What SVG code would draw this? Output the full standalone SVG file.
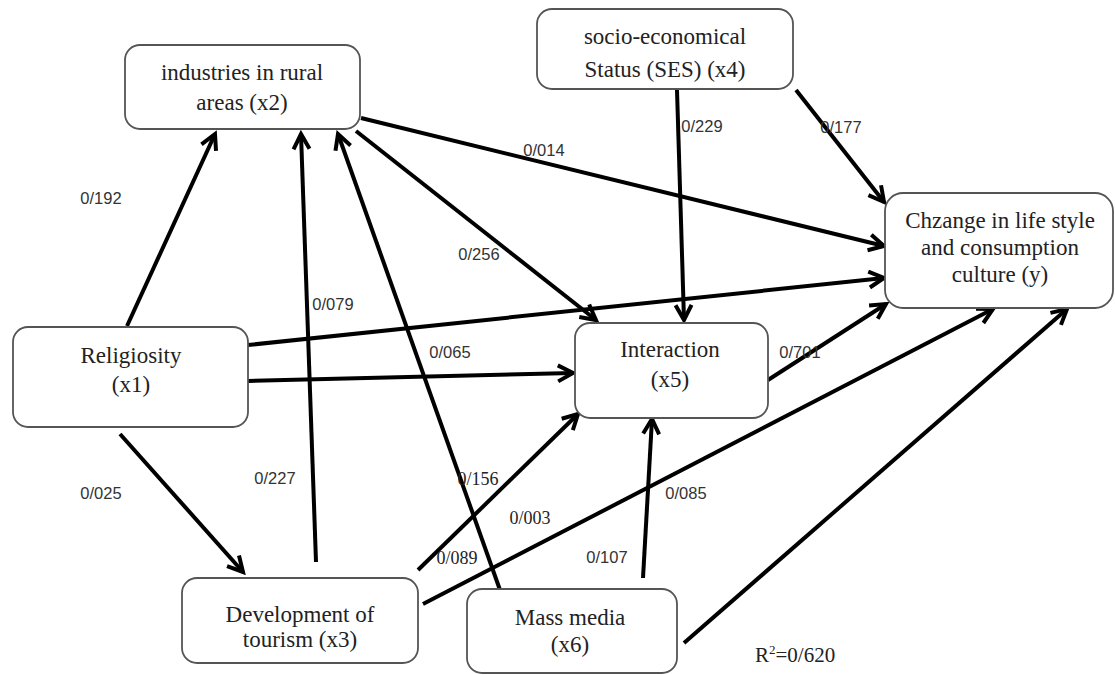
<svg xmlns="http://www.w3.org/2000/svg" width="1115" height="675" viewBox="0 0 1115 675">
<style>
.box{fill:#fff;stroke:#555;stroke-width:1.8}
.nt{font-family:"Liberation Serif","Times New Roman",serif;font-size:23px;fill:#222;text-anchor:middle}
.lb{font-family:"Liberation Sans",Arial,sans-serif;font-size:16.5px;fill:#333;text-anchor:middle}
.ls{font-family:"Liberation Serif","Times New Roman",serif;font-size:18px;fill:#222;text-anchor:middle}
.c line{stroke:#000;stroke-width:4;marker-end:url(#a)}
</style>
<defs>
<marker id="a" viewBox="0 0 24 24" refX="20" refY="12" markerWidth="24" markerHeight="24" markerUnits="userSpaceOnUse" orient="auto">
<path d="M5,4 L20,12 L5,20" fill="none" stroke="#000" stroke-width="4"/>
</marker>
</defs>
<rect width="1115" height="675" fill="#fff"/>
<g class="c" id="connectors">
<line x1="127" y1="326" x2="215" y2="134"/>
<line x1="361" y1="118" x2="884" y2="246"/>
<line x1="356" y1="131" x2="596" y2="320"/>
<line x1="677" y1="90" x2="684" y2="320"/>
<line x1="796" y1="90" x2="884" y2="202"/>
<line x1="248" y1="345" x2="884" y2="278"/>
<line x1="248" y1="381" x2="573" y2="373"/>
<line x1="120" y1="434" x2="243" y2="572"/>
<line x1="316" y1="562" x2="301" y2="134"/>
<line x1="500" y1="590" x2="338" y2="134"/>
<line x1="418" y1="570" x2="578" y2="414"/>
<line x1="423" y1="604" x2="993" y2="309"/>
<line x1="768" y1="380" x2="886" y2="304"/>
<line x1="643" y1="578" x2="652" y2="419"/>
<line x1="684" y1="643" x2="1067" y2="309"/>
</g>
<g id="x2"><rect class="box" x="125" y="45" width="235" height="84" rx="15"/><text class="nt" x="242" y="80">industries in rural</text><text class="nt" x="242" y="110">areas (x2)</text></g>
<g id="x4"><rect class="box" x="537" y="9" width="256" height="80" rx="15"/><text class="nt" x="665" y="44">socio-economical</text><text class="nt" x="665" y="77">Status (SES) (x4)</text></g>
<g id="y"><rect class="box" x="885" y="193" width="228" height="115" rx="18"/><text class="nt" x="1000" y="228">Chzange in life style</text><text class="nt" x="1000" y="255">and consumption</text><text class="nt" x="1000" y="282">culture (y)</text></g>
<g id="x1"><rect class="box" x="13" y="327" width="235" height="100" rx="15"/><text class="nt" x="131" y="363">Religiosity</text><text class="nt" x="131" y="392">(x1)</text></g>
<g id="x5"><rect class="box" x="575" y="323" width="193" height="95" rx="15"/><text class="nt" x="670" y="357">Interaction</text><text class="nt" x="670" y="387">(x5)</text></g>
<g id="x3"><rect class="box" x="182" y="578" width="236" height="85" rx="15"/><text class="nt" x="300" y="622">Development of</text><text class="nt" x="300" y="647">tourism (x3)</text></g>
<g id="x6"><rect class="box" x="467" y="589" width="210" height="84" rx="15"/><text class="nt" x="570" y="625">Mass media</text><text class="nt" x="570" y="652">(x6)</text></g>
<g id="labels">
<text class="lb" x="101" y="204">0/192</text>
<text class="lb" x="544" y="156">0/014</text>
<text class="lb" x="702" y="132">0/229</text>
<text class="lb" x="841" y="133">0/177</text>
<text class="lb" x="479" y="260">0/256</text>
<text class="lb" x="333" y="310">0/079</text>
<text class="lb" x="450" y="358">0/065</text>
<text class="lb" x="800" y="358">0/701</text>
<text class="lb" x="275" y="484">0/227</text>
<text class="lb" x="101" y="499">0/025</text>
<text class="ls" x="478" y="485">0/156</text>
<text class="ls" x="530" y="524">0/003</text>
<text class="ls" x="457" y="564">0/089</text>
<text class="lb" x="607" y="563">0/107</text>
<text class="lb" x="686" y="499">0/085</text>
<text class="nt" x="755" y="662" style="text-anchor:start;font-size:21px">R<tspan dy="-8" font-size="13">2</tspan><tspan dy="8">=0/620</tspan></text>
</g>
</svg>
